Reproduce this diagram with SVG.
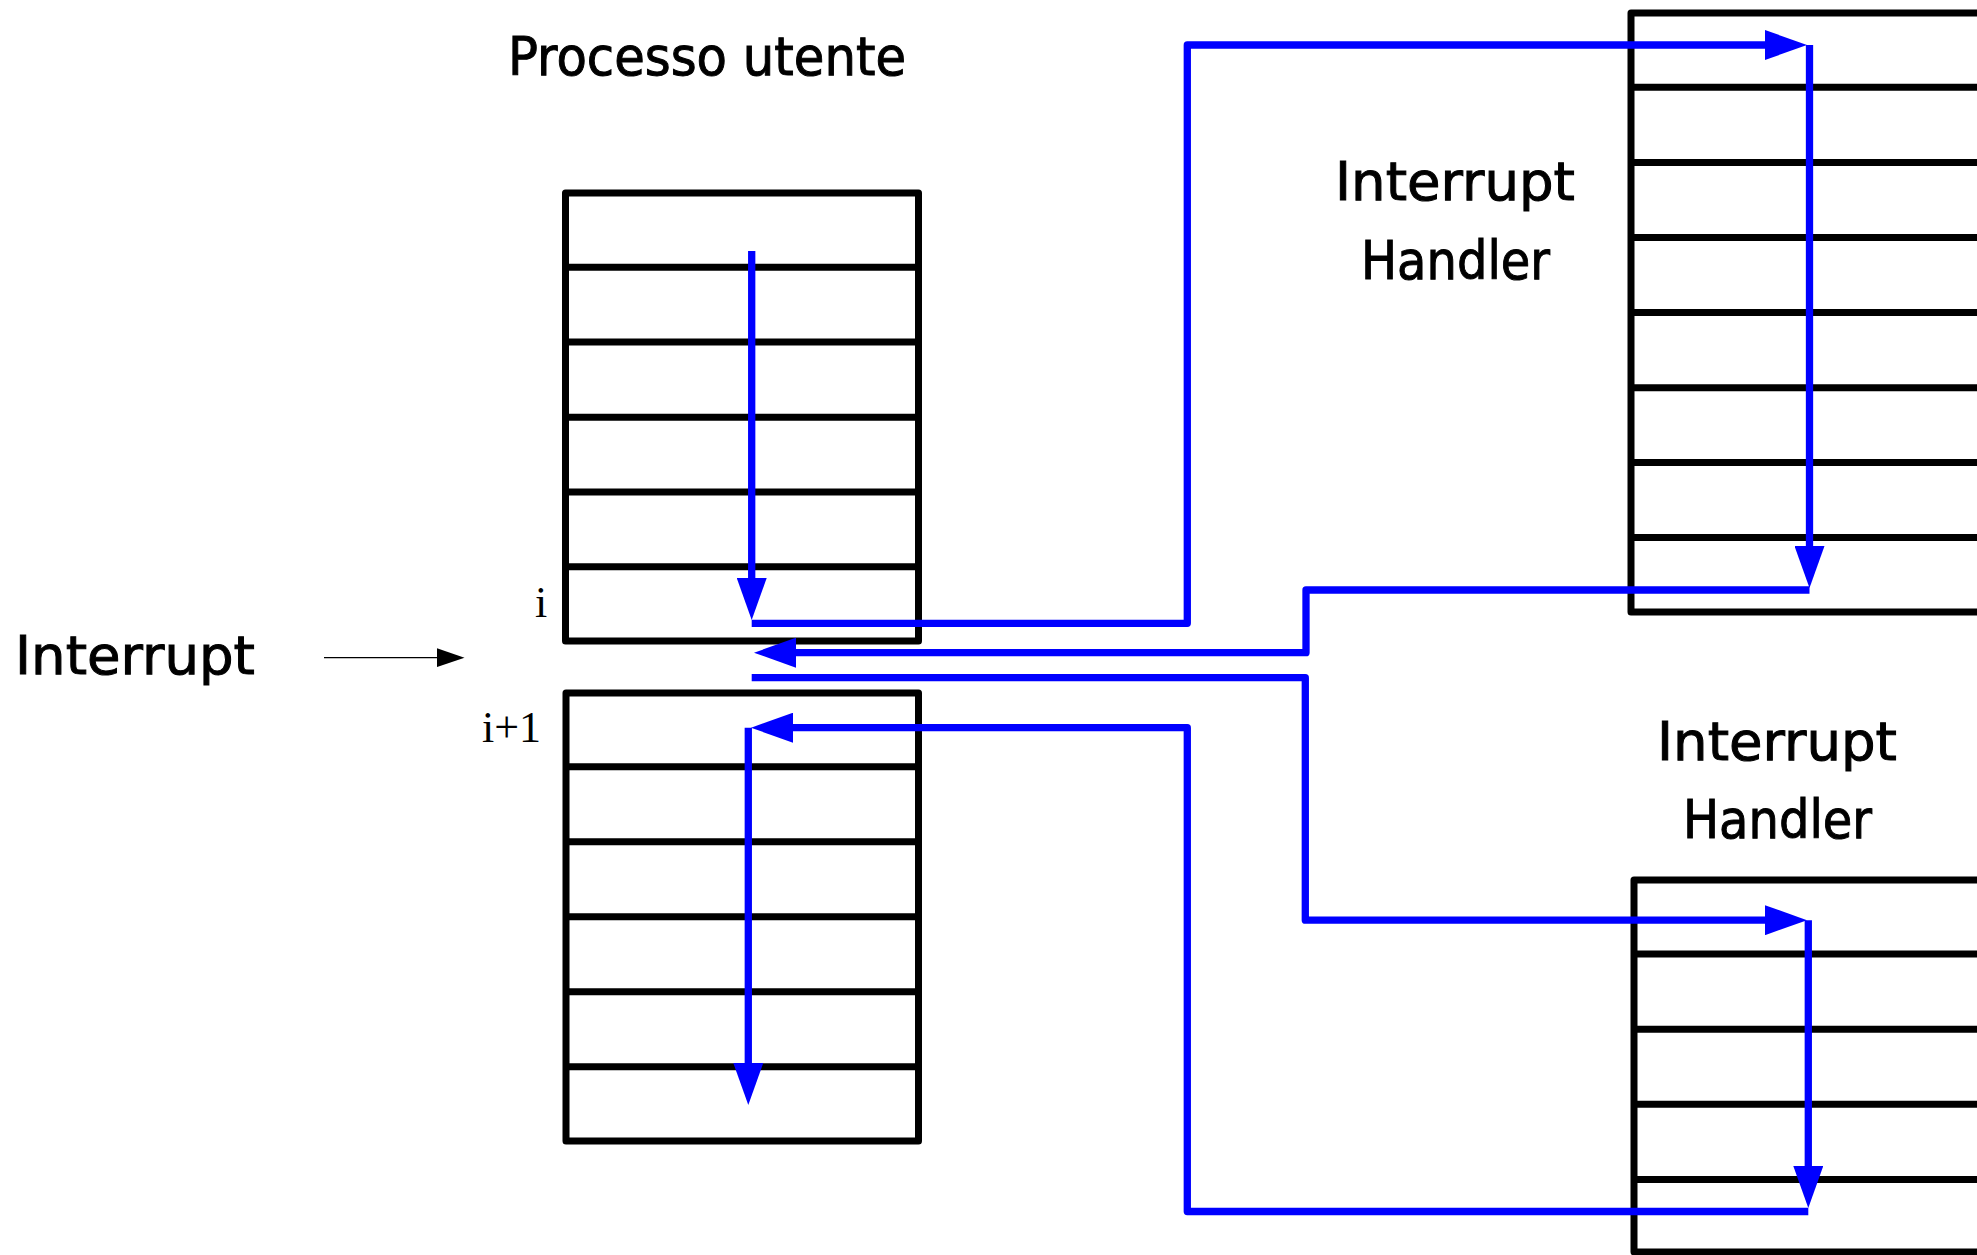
<svg xmlns="http://www.w3.org/2000/svg" width="1977" height="1255" viewBox="0 0 1977 1255">
  <style>
    .box { fill: #ffffff; stroke: #000000; stroke-width: 7; stroke-linejoin: round; }
    .row { stroke: #000000; stroke-width: 7; fill: none; }
    .flow { fill: none; stroke: #0000ff; stroke-width: 7.3; stroke-linejoin: round; }
    .comic { font-family: "Comic Sans MS", "DejaVu Sans", sans-serif; font-size: 53px; fill: #000000; stroke: #000000; stroke-width: 1; }
    .serif { font-family: "Liberation Serif", "Times New Roman", serif; font-size: 44px; fill: #000000; }
  </style>
  <defs>
    <marker id="ab" viewBox="0 0 42 30" refX="1" refY="15" markerWidth="42" markerHeight="30" markerUnits="userSpaceOnUse" orient="auto">
      <path d="M0,0 L42,15 L0,30 Z" fill="#0000ff"/>
    </marker>
    <marker id="ak" viewBox="0 0 28 19" refX="1" refY="9.5" markerWidth="28" markerHeight="19" markerUnits="userSpaceOnUse" orient="auto">
      <path d="M0,0 L28,9.5 L0,19 Z" fill="#000000"/>
    </marker>
  </defs>
  <rect width="1977" height="1255" fill="#ffffff"/>

  <g id="title">
    <text class="comic" x="508" y="75" textLength="398" lengthAdjust="spacingAndGlyphs">Processo utente</text>
  </g>

  <g id="interrupt-source">
    <text class="comic" x="15" y="674" textLength="240" lengthAdjust="spacingAndGlyphs">Interrupt</text>
  </g>

  <g id="process-top">
    <rect class="box" x="565.5" y="193" width="353" height="448"/>
    <path class="row" d="M565.5,267.3 H918.5 M565.5,342 H918.5 M565.5,417.3 H918.5 M565.5,492 H918.5 M565.5,566.7 H918.5"/>
    <text class="serif" x="535" y="617">i</text>
  </g>

  <g id="process-bottom">
    <rect class="box" x="566" y="693" width="352.5" height="448"/>
    <path class="row" d="M566,766.7 H918.5 M566,841.7 H918.5 M566,916.7 H918.5 M566,991.7 H918.5 M566,1066.7 H918.5"/>
    <text class="serif" x="482" y="742">i+1</text>
  </g>

  <g id="handler-1">
    <text class="comic" x="1335" y="200" textLength="240" lengthAdjust="spacingAndGlyphs">Interrupt</text>
    <text class="comic" x="1361" y="278.5" textLength="189" lengthAdjust="spacingAndGlyphs">Handler</text>
    <rect class="box" x="1631" y="13" width="400" height="599"/>
    <path class="row" d="M1631,87.3 H1990 M1631,162.5 H1990 M1631,237.5 H1990 M1631,312.6 H1990 M1631,387.7 H1990 M1631,462.4 H1990 M1631,537.4 H1990"/>
  </g>

  <g id="handler-2">
    <text class="comic" x="1657" y="759.5" textLength="240" lengthAdjust="spacingAndGlyphs">Interrupt</text>
    <text class="comic" x="1683" y="837.5" textLength="189" lengthAdjust="spacingAndGlyphs">Handler</text>
    <rect class="box" x="1634" y="880" width="400" height="372"/>
    <path class="row" d="M1634,954 H1990 M1634,1029.2 H1990 M1634,1104.2 H1990 M1634,1179.6 H1990"/>
  </g>

  <g id="connectors">
    <path d="M324,657.7 H437.5" fill="none" stroke="#000000" stroke-width="1.3" marker-end="url(#ak)"/>
    <path class="flow" d="M751.7,251 V579" marker-end="url(#ab)"/>
    <path class="flow" d="M751.7,623.3 H1187.3 V45 H1766" marker-end="url(#ab)"/>
    <path class="flow" d="M1809.5,45 V547" marker-end="url(#ab)"/>
    <path class="flow" d="M1809.5,590 H1306 V652.7 H795" marker-end="url(#ab)"/>
    <path class="flow" d="M751.7,677.7 H1305.3 V920.2 H1766" marker-end="url(#ab)"/>
    <path class="flow" d="M1808.3,920.2 V1167" marker-end="url(#ab)"/>
    <path class="flow" d="M1808.3,1211.5 H1187.3 V727.7 H792" marker-end="url(#ab)"/>
    <path class="flow" d="M748.3,727.7 V1064" marker-end="url(#ab)"/>
  </g>
</svg>
